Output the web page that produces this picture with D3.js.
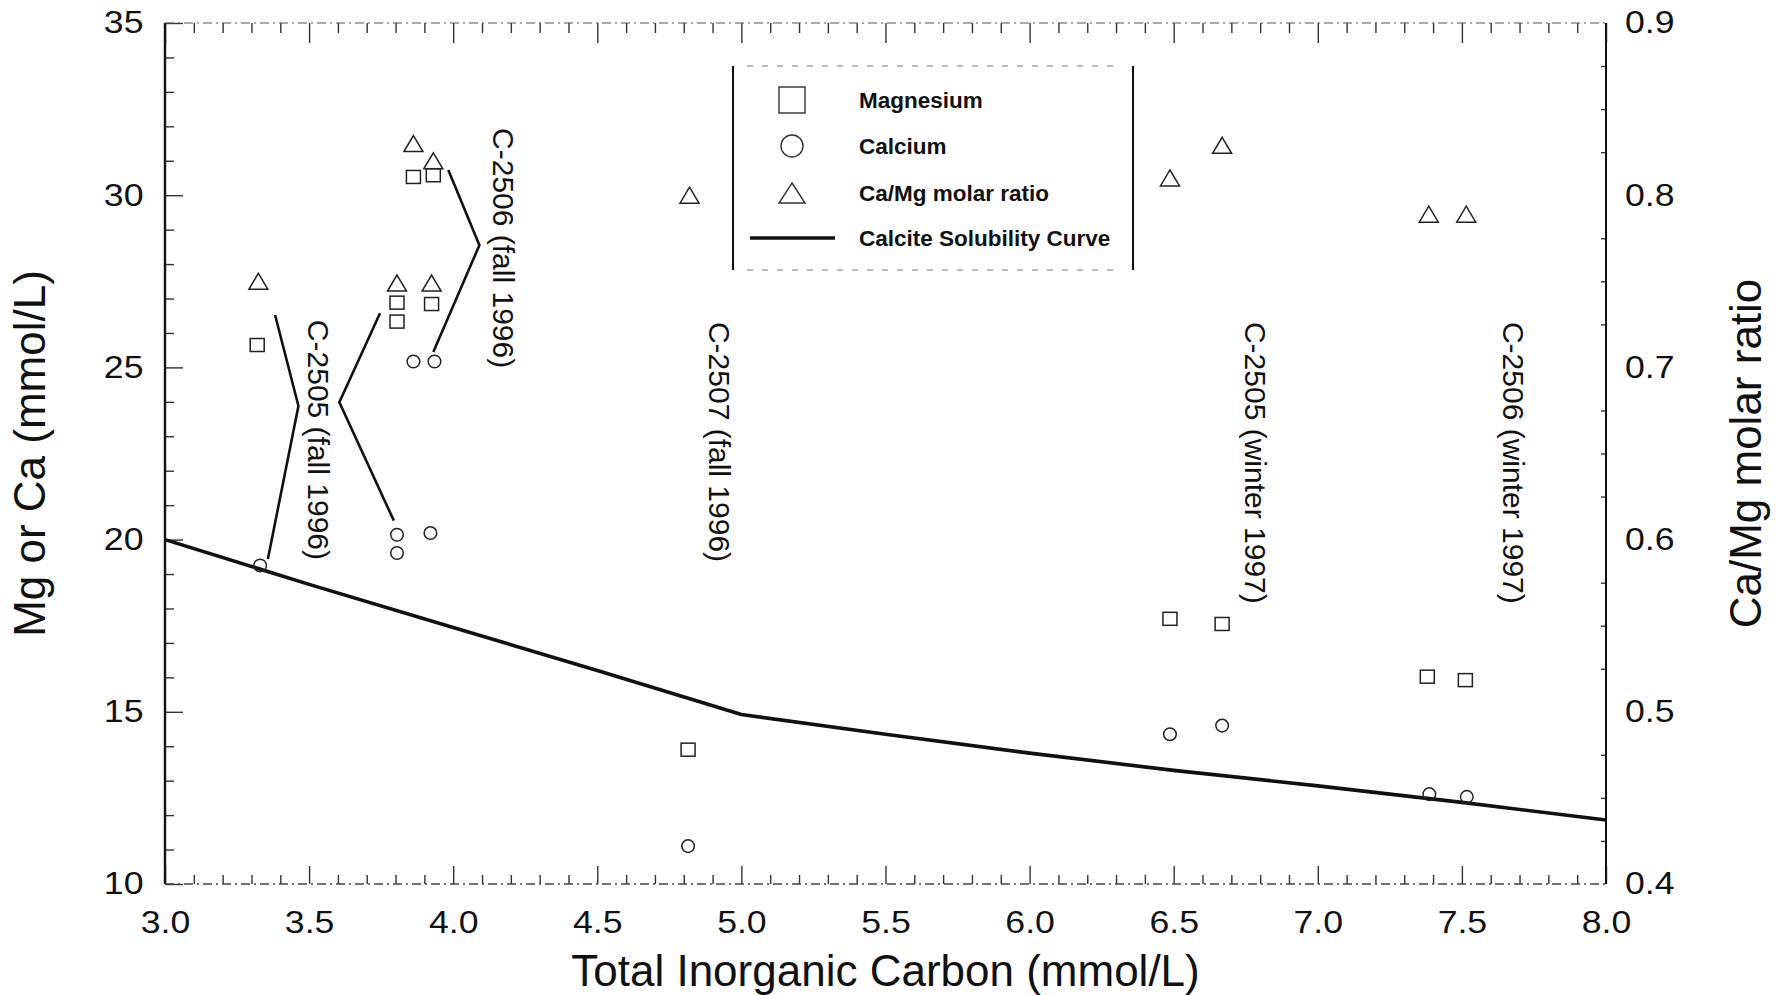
<!DOCTYPE html>
<html><head><meta charset="utf-8">
<script src="https://cdn.jsdelivr.net/npm/d3@7"></script>
<style>
html,body{margin:0;padding:0;background:#fff;}
svg{display:block;font-family:Arial,"Liberation Sans",Helvetica,sans-serif;}
</style></head><body>
<svg id="chart" width="1781" height="995"></svg>
<script>
// ---------- data ----------
const xTicks = [3.0, 3.5, 4.0, 4.5, 5.0, 5.5, 6.0, 6.5, 7.0, 7.5, 8.0];
const yLeftTicks = [10, 15, 20, 25, 30, 35];
const yRightTicks = [0.4, 0.5, 0.6, 0.7, 0.8, 0.9];

// Magnesium (mmol/L)
const mgX = [3.32, 3.805, 3.805, 3.925, 3.862, 3.931, 4.815, 6.487, 6.668, 7.38, 7.512];
const mgY = [25.65, 26.88, 26.33, 26.84, 30.53, 30.58, 13.9, 17.7, 17.55, 16.02, 15.92];
// Calcium (mmol/L)
const caX = [3.33, 3.805, 3.805, 3.921, 3.862, 3.935, 4.815, 6.487, 6.668, 7.387, 7.517];
const caY = [19.25, 20.14, 19.61, 20.19, 25.17, 25.17, 11.1, 14.35, 14.6, 12.61, 12.53];
// Ca/Mg molar ratio (right axis)
const ratioX = [3.324, 3.805, 3.925, 3.862, 3.931, 4.82, 6.487, 6.668, 7.385, 7.515];
const ratioY = [0.750, 0.749, 0.749, 0.830, 0.820, 0.800, 0.810, 0.829, 0.789, 0.789];
// Calcite solubility curve
const curveX = [3.0, 3.5, 4.0, 4.5, 5.0, 5.5, 6.0, 6.5, 7.0, 7.5, 8.0];
const curveY = [20.0, 18.7, 17.45, 16.2, 14.92, 14.35, 13.8, 13.3, 12.85, 12.37, 11.86];

// well annotations (data coords of text start)
const labelText = ["C-2505 (fall 1996)", "C-2506 (fall 1996)", "C-2507 (fall 1996)", "C-2505 (winter 1997)", "C-2506 (winter 1997)"];
const labelX = [3.496, 4.138, 4.888, 6.747, 7.643];
const labelY = [26.38, 31.95, 26.32, 26.32, 26.32];
// bracket lines
const bracketX = [[3.382, 3.463, 3.357], [3.746, 3.605, 3.794], [3.983, 4.091, 3.931]];
const bracketY = [[26.52, 23.88, 19.44], [26.57, 23.99, 20.55], [30.73, 28.55, 25.45]];

const legendLabels = ["Magnesium", "Calcium", "Ca/Mg molar ratio", "Calcite Solubility Curve"];

// ---------- layout ----------
const W = 1781, H = 995;
const L = 165, R = 1606, T = 23, B = 884;
const svg = d3.select("#chart");
const x = d3.scaleLinear().domain([3, 8]).range([L, R]);
const yL = d3.scaleLinear().domain([10, 35]).range([B, T]);
const yR = d3.scaleLinear().domain([0.4, 0.9]).range([B, T]);

const minorX = d3.range(30, 81).map(d => d / 10).filter(d => Math.abs(d * 2 - Math.round(d * 2)) > 1e-6);
const minorYL = d3.range(10, 36).filter(d => d % 5 !== 0);
const minorYR = d3.range(16, 37).map(d => d * 0.025).filter(d => Math.abs(d * 10 - Math.round(d * 10)) > 1e-6);

const tickColor = "#333";
const lblStretch = 1.15;

// bottom axis
const gB = svg.append("g").attr("transform", `translate(0,${B})`)
  .call(d3.axisBottom(x).tickValues(xTicks).tickFormat(d3.format(".1f"))
    .tickSizeInner(-18).tickSizeOuter(0).tickPadding(27));
gB.selectAll("text").attr("font-size", 31).attr("fill", "#111")
  .attr("font-family", "Arial, 'Liberation Sans', sans-serif")
  .attr("transform", `scale(${lblStretch},1)`);
svg.append("g").attr("transform", `translate(0,${B})`)
  .call(d3.axisBottom(x).tickValues(minorX).tickFormat("").tickSizeInner(-9).tickSizeOuter(0));

// top axis
svg.append("g").attr("transform", `translate(0,${T})`)
  .call(d3.axisTop(x).tickValues(xTicks).tickFormat("").tickSizeInner(-20).tickSizeOuter(0));
svg.append("g").attr("transform", `translate(0,${T})`)
  .call(d3.axisTop(x).tickValues(minorX).tickFormat("").tickSizeInner(-10).tickSizeOuter(0));

// left axis
const gL = svg.append("g").attr("transform", `translate(${L},0)`)
  .call(d3.axisLeft(yL).tickValues(yLeftTicks).tickFormat(d3.format("d"))
    .tickSizeInner(-18).tickSizeOuter(0).tickPadding(18.7));
gL.selectAll("text").attr("font-size", 31).attr("fill", "#111")
  .attr("font-family", "Arial, 'Liberation Sans', sans-serif")
  .attr("transform", `scale(${lblStretch},1)`);
svg.append("g").attr("transform", `translate(${L},0)`)
  .call(d3.axisLeft(yL).tickValues(minorYL).tickFormat("").tickSizeInner(-9).tickSizeOuter(0));

// right axis
const gR = svg.append("g").attr("transform", `translate(${R},0)`)
  .call(d3.axisRight(yR).tickValues(yRightTicks).tickFormat(d3.format(".1f"))
    .tickSizeInner(0).tickSizeOuter(0).tickPadding(16.5));
gR.selectAll("text").attr("font-size", 31).attr("fill", "#111")
  .attr("font-family", "Arial, 'Liberation Sans', sans-serif")
  .attr("transform", `scale(${lblStretch},1)`);
svg.append("g").attr("transform", `translate(${R},0)`)
  .call(d3.axisRight(yR).tickValues(minorYR).tickFormat("").tickSizeInner(-5).tickSizeOuter(0));

svg.selectAll(".domain").remove();
svg.selectAll(".tick line").attr("stroke", tickColor).attr("stroke-width", 1.4);

// axis frame lines
svg.append("line").attr("x1", L).attr("x2", L).attr("y1", T).attr("y2", B)
  .attr("stroke", "#111").attr("stroke-width", 2.4);
svg.append("line").attr("x1", R).attr("x2", R).attr("y1", T).attr("y2", B)
  .attr("stroke", "#111").attr("stroke-width", 2);
svg.append("line").attr("x1", L).attr("x2", R).attr("y1", B).attr("y2", B)
  .attr("stroke", "#444").attr("stroke-width", 1.3).attr("stroke-dasharray", "9 4 2 4");
svg.append("line").attr("x1", L).attr("x2", R).attr("y1", T).attr("y2", T)
  .attr("stroke", "#555").attr("stroke-width", 1.2).attr("stroke-dasharray", "9 4 2 4");

// axis titles
svg.append("text").attr("x", (L + R) / 2).attr("y", 986).attr("text-anchor", "middle")
  .attr("font-size", 44).attr("fill", "#111").text("Total Inorganic Carbon (mmol/L)");
svg.append("text").attr("transform", `translate(45,${(T + B) / 2}) rotate(-90)`)
  .attr("text-anchor", "middle").attr("font-size", 44).attr("fill", "#111").text("Mg or Ca (mmol/L)");
svg.append("text").attr("transform", `translate(1761,${(T + B) / 2}) rotate(-90)`)
  .attr("text-anchor", "middle").attr("font-size", 44).attr("fill", "#111").text("Ca/Mg molar ratio");

// calcite curve
const line = d3.line().x(d => x(d[0])).y(d => yL(d[1]));
svg.append("path").datum(d3.zip(curveX, curveY)).attr("d", line)
  .attr("fill", "none").attr("stroke", "#111").attr("stroke-width", 3.6).attr("stroke-linejoin", "round");

// bracket lines
bracketX.forEach((bx, i) => {
  svg.append("path").datum(d3.zip(bx, bracketY[i])).attr("d", line)
    .attr("fill", "none").attr("stroke", "#111").attr("stroke-width", 2.6);
});

// markers
const mk = svg.append("g").attr("fill", "none").attr("stroke", "#222").attr("stroke-width", 1.5);
mk.selectAll("rect.mg").data(d3.zip(mgX, mgY)).join("rect").attr("class", "mg")
  .attr("x", d => x(d[0]) - 7).attr("y", d => yL(d[1]) - 6.5).attr("width", 14).attr("height", 13);
mk.selectAll("circle.ca").data(d3.zip(caX, caY)).join("circle").attr("class", "ca")
  .attr("cx", d => x(d[0])).attr("cy", d => yL(d[1])).attr("r", 6.3);
const tri = (w, h) => `M0,${-h / 2}L${w / 2},${h / 2}L${-w / 2},${h / 2}Z`;
mk.selectAll("path.ratio").data(d3.zip(ratioX, ratioY)).join("path").attr("class", "ratio")
  .attr("transform", d => `translate(${x(d[0])},${yR(d[1])})`).attr("d", tri(19, 16));

// well labels
labelText.forEach((t, i) => {
  svg.append("text").attr("transform", `translate(${x(labelX[i])},${yL(labelY[i])}) rotate(90)`)
    .attr("font-size", 30).attr("fill", "#111").text(t);
});

// legend
const lg = svg.append("g");
const lx0 = 733, lx1 = 1133, ly0 = 66, ly1 = 270;
lg.append("line").attr("x1", lx0).attr("x2", lx0).attr("y1", ly0).attr("y2", ly1).attr("stroke", "#111").attr("stroke-width", 2);
lg.append("line").attr("x1", lx1).attr("x2", lx1).attr("y1", ly0).attr("y2", ly1).attr("stroke", "#111").attr("stroke-width", 2);
lg.append("line").attr("x1", lx0 + 14).attr("x2", lx1 - 14).attr("y1", ly0).attr("y2", ly0).attr("stroke", "#777").attr("stroke-width", 1).attr("stroke-dasharray", "6 9");
lg.append("line").attr("x1", lx0 + 14).attr("x2", lx1 - 14).attr("y1", ly1).attr("y2", ly1).attr("stroke", "#777").attr("stroke-width", 1).attr("stroke-dasharray", "6 9");
const rowY = [100, 146, 193, 238];
const symX = 792;
lg.append("rect").attr("x", symX - 13).attr("y", rowY[0] - 13).attr("width", 26).attr("height", 26)
  .attr("fill", "none").attr("stroke", "#333").attr("stroke-width", 1.4);
lg.append("circle").attr("cx", symX).attr("cy", rowY[1]).attr("r", 11)
  .attr("fill", "none").attr("stroke", "#333").attr("stroke-width", 1.4);
lg.append("path").attr("transform", `translate(${symX},${rowY[2]})`).attr("d", tri(26, 20))
  .attr("fill", "none").attr("stroke", "#333").attr("stroke-width", 1.4);
lg.append("line").attr("x1", 750).attr("x2", 835).attr("y1", rowY[3]).attr("y2", rowY[3])
  .attr("stroke", "#111").attr("stroke-width", 3.5);
legendLabels.forEach((t, i) => {
  lg.append("text").attr("x", 859).attr("y", rowY[i] + 8).attr("font-size", 22.5)
    .attr("font-weight", "bold").attr("fill", "#111").text(t);
});
</script>
</body></html>
